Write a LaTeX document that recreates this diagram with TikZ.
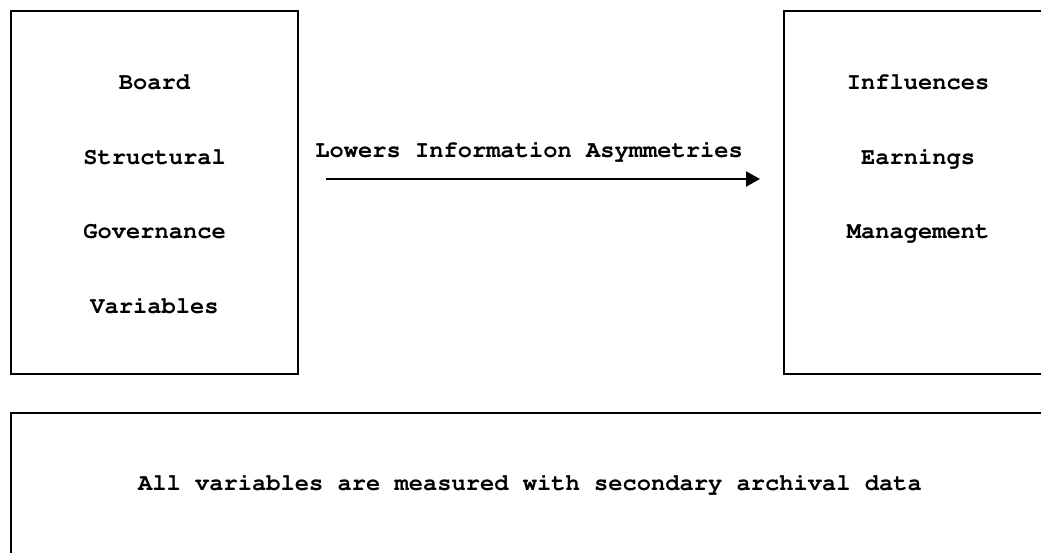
\documentclass[tikz,border=0pt]{standalone}
\usepackage[T1]{fontenc}
\usepackage{courier}
\usetikzlibrary{arrows.meta}
\tikzset{
  frame/.style={draw=black, line width=2pt, rectangle, inner sep=0pt, outer sep=0pt},
  word/.style={font=\ttfamily\bfseries\fontsize{23.75}{28}\selectfont, inner sep=0pt, anchor=base},
  flow/.style={line width=2pt, -{Triangle[length=14pt, width=15pt]}}
}
\begin{document}
\begin{tikzpicture}[x=1pt, y=-1pt]
  \useasboundingbox (0,0) rectangle (1041,552);
  \clip (0,0) rectangle (1041,552);
  \fill[white] (0,0) rectangle (1041,552);

  % boxes
  \node[frame, minimum width=286.4pt, minimum height=363pt] (gov) at (154.5,192.8) {};
  \node[frame, minimum width=267.4pt, minimum height=363pt] (em) at (918,192.8) {};
  \node[frame, minimum width=1037.4pt, minimum height=143.6pt] (note) at (530,484.5) {};

  % left box text
  \node[word] (g1) at (154.5,89) {Board};
  \node[word] (g2) at (154.5,164) {Structural};
  \node[word] (g3) at (154.5,238) {Governance};
  \node[word] (g4) at (154.5,313) {Variables};

  % right box text
  \node[word] (e1) at (918,89) {Influences};
  \node[word] (e2) at (918,164) {Earnings};
  \node[word] (e3) at (918,238) {Management};

  % link between the boxes
  \node[word] (lbl) at (529,157) {Lowers Information Asymmetries};
  \coordinate (as) at (326,179);
  \coordinate (ae) at (760,179);
  \draw[flow] (as) -- (ae);

  % note box text
  \node[word] (n1) at (530,490) {All variables are measured with secondary archival data};
\end{tikzpicture}
\end{document}
